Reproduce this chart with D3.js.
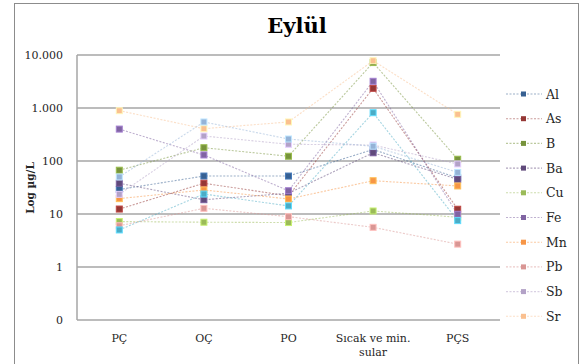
<!DOCTYPE html>
<html>
<head>
<meta charset="utf-8">
<script src="https://cdn.jsdelivr.net/npm/d3@7"></script>
<style>
  body { margin: 0; background: #fff; }
  text { font-family: "DejaVu Serif", serif; fill: #262626; }
</style>
</head>
<body>
<div id="chart"></div>
<script>
// categories and tick labels
var categories = ["PÇ", "OÇ", "PO", "Sıcak ve min. sular", "PÇS"];
var categoryLines = [["PÇ"], ["OÇ"], ["PO"], ["Sıcak ve min.", "sular"], ["PÇS"]];
var tickValues = [0.1, 1, 10, 100, 1000, 10000];
var tickLabels = ["0", "1", "10", "100", "1.000", "10.000"];

// series values (µg/L)
var Al = [29, 52, 52, 165, 48];
var As = [12.4, 38, 22, 2350, 12.3];
var B  = [67, 178, 123, 7200, 108];
var Ba = [38, 18.6, 24.6, 143, 45];
var Cu = [7.2, 7.0, 6.9, 11.4, 8.7];
var Fe = [400, 130, 27.5, 3190, 9.9];
var Mn = [19.5, 28.4, 19.2, 42.5, 33.8];
var Pb = [6.0, 12.8, 8.9, 5.6, 2.7];
var Sb = [23.5, 296, 207, 200, 88];
var Sr = [890, 407, 545, 7800, 760];
// two more series are drawn but not in the legend
var extra1 = [50, 545, 260, 190, 61];
var extra2 = [5.0, 23.8, 14.2, 815, 7.5];

var seriesNames = ["Al", "As", "B", "Ba", "Cu", "Fe", "Mn", "Pb", "Sb", "Sr", "", ""];
var seriesValues = [Al, As, B, Ba, Cu, Fe, Mn, Pb, Sb, Sr, extra1, extra2];
var seriesColors = ["#376092", "#953735", "#77933C", "#604A7B", "#9BBB59", "#8064A2",
                    "#F79646", "#D99694", "#B3A2C7", "#FAC090", "#95B3D7", "#4BACC6"];

var width = 587, height = 364;
var svg = d3.select("#chart").append("svg")
    .attr("width", width)
    .attr("height", height);

// outer border
svg.append("rect")
    .attr("x", 14.5).attr("y", 3.5)
    .attr("width", 564).attr("height", 370)
    .attr("fill", "#fff")
    .attr("stroke", "#8c8c8c");

var x = d3.scaleBand().domain(categories).range([77, 500]);
var y = d3.scaleLog().domain([0.1, 10000]).range([320, 55]);

// gridlines
svg.append("g").selectAll("line")
    .data(tickValues)
    .enter().append("line")
    .attr("x1", 77).attr("x2", 500)
    .attr("y1", d => y(d)).attr("y2", d => y(d))
    .attr("stroke", "#a6a6a6")
    .attr("stroke-width", 1.5);

svg.append("line")
    .attr("x1", 77).attr("x2", 77)
    .attr("y1", y(10000)).attr("y2", y(0.1))
    .attr("stroke", "#a6a6a6")
    .attr("stroke-width", 1.5);

// y tick labels
svg.append("g").selectAll("text")
    .data(tickValues)
    .enter().append("text")
    .attr("x", 63)
    .attr("y", d => y(d) + 4)
    .attr("text-anchor", "end")
    .style("font-size", "11px")
    .text((d, i) => tickLabels[i]);

// x labels
var xl = svg.append("g").selectAll("text")
    .data(categories)
    .enter().append("text")
    .attr("text-anchor", "middle")
    .style("font-size", "11px")
    .attr("transform", d => "translate(" + (x(d) + x.bandwidth() / 2) + ",342)");
xl.each(function(d, i) {
    var t = d3.select(this);
    categoryLines[i].forEach(function(line, j) {
        t.append("tspan").attr("x", 0).attr("dy", j == 0 ? 0 : 14).text(line);
    });
});

// title and axis title
svg.append("text")
    .attr("x", 297).attr("y", 33)
    .attr("text-anchor", "middle")
    .style("font-size", "21px")
    .style("font-weight", "bold")
    .style("fill", "#000")
    .text("Eylül");

svg.append("text")
    .attr("transform", "translate(34,188) rotate(-90)")
    .attr("text-anchor", "middle")
    .style("font-size", "10.5px")
    .style("font-weight", "bold")
    .text("Log µg/L");

var line = d3.line()
    .x((d, i) => x(categories[i]) + x.bandwidth() / 2)
    .y(d => y(d));

var series = seriesValues.map((v, i) => ({name: seriesNames[i], values: v, color: seriesColors[i]}));

var g = svg.append("g");
series.forEach(function(s) {
    g.append("path")
        .datum(s.values)
        .attr("d", line)
        .attr("fill", "none")
        .attr("stroke", s.color)
        .attr("stroke-opacity", 0.5)
        .attr("stroke-width", 1.1)
        .attr("stroke-dasharray", "2,1.5");
});
series.forEach(function(s) {
    g.selectAll(null)
        .data(s.values)
        .enter().append("rect")
        .attr("x", (d, i) => x(categories[i]) + x.bandwidth() / 2 - 3)
        .attr("y", d => y(d) - 3)
        .attr("width", 6).attr("height", 6)
        .attr("fill", s.color)
        .attr("stroke", d3.color(s.color).brighter(0.7))
        .attr("stroke-width", 1);
});

// legend
var legend = svg.append("g").selectAll("g")
    .data(series.filter(s => s.name != ""))
    .enter().append("g")
    .attr("transform", (d, i) => "translate(0," + (94 + i * 24.7) + ")");
legend.append("line")
    .attr("x1", 506).attr("x2", 542)
    .attr("stroke", d => d.color)
    .attr("stroke-opacity", 0.5)
    .attr("stroke-width", 1.1)
    .attr("stroke-dasharray", "2,1.5");
legend.append("rect")
    .attr("x", 521).attr("y", -2.5).attr("width", 5).attr("height", 5)
    .attr("fill", d => d.color);
legend.append("text")
    .attr("x", 546).attr("y", 4.5)
    .style("font-size", "12.5px")
    .text(d => d.name);
</script>
</body>
</html>
